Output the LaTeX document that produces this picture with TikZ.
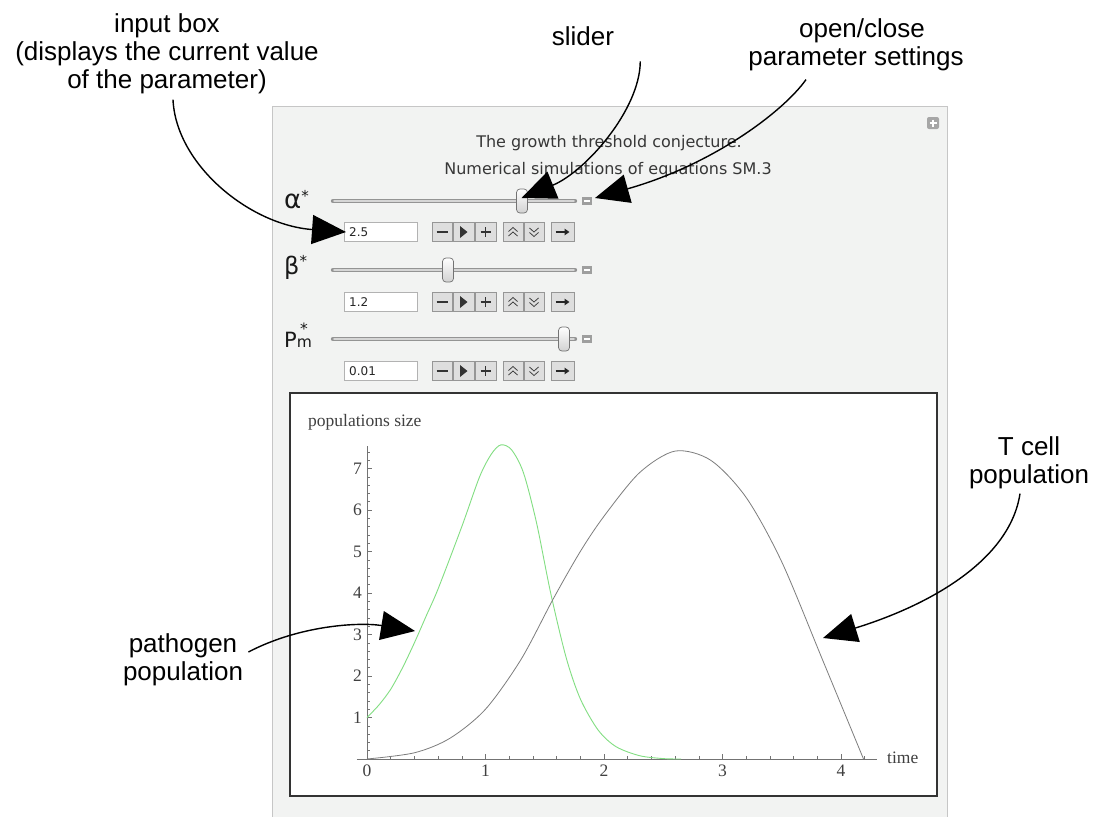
\documentclass[tikz,border=0pt]{standalone}
\usepackage{fontspec}
\setmainfont{Liberation Sans}
\newfontfamily\annfont{Liberation Sans}
\newfontfamily\uifont{DejaVu Sans}
\newfontfamily\plotfont{Liberation Serif}
\usetikzlibrary{arrows.meta}
\definecolor{panelbg}{RGB}{242,243,242}
\definecolor{panelbd}{RGB}{198,198,198}
\definecolor{uitext}{RGB}{55,55,55}
\definecolor{btnfill}{RGB}{222,222,222}
\definecolor{btnbd}{RGB}{150,150,150}
\definecolor{pgreen}{RGB}{130,222,130}
\definecolor{pgray}{RGB}{125,125,125}
\begin{document}
\begin{tikzpicture}[x=1pt,y=-1pt,
  ann/.style={font=\annfont\fontsize{26}{28}\selectfont, inner sep=0pt, anchor=base},
  callout/.style={line width=1.4pt, -{Triangle[length=34pt,width=29pt]}},
  uititle/.style={font=\uifont\fontsize{16}{18}\selectfont, text=uitext, inner sep=0pt, anchor=base},
  inbox/.style={draw=black!30, fill=white, line width=0.6pt, minimum width=73pt, minimum height=19pt, inner sep=0pt},
  valtxt/.style={font=\uifont\fontsize{12}{12}\selectfont, text=black!85, inner sep=0pt, anchor=west},
  btnbox/.style={draw=btnbd, fill=btnfill, line width=0.6pt, inner sep=0pt, minimum height=19pt},
  thumbbox/.style={draw=black!55, rounded corners=3.5pt, top color=white, bottom color=black!18, minimum width=11pt, minimum height=24pt, inner sep=0pt, line width=0.7pt},
  minbox/.style={fill=black!38, minimum width=10pt, minimum height=8pt, inner sep=0pt},
  parlbl/.style={font=\uifont, text=black!90, inner sep=0pt, anchor=base west},
  axisline/.style={draw=black!55, line width=0.7pt},
  ticklbl/.style={font=\plotfont\fontsize{17.5}{18}\selectfont, text=black!75, inner sep=0pt},
]
\useasboundingbox (0,0) rectangle (1096,817);
\fill[white] (0,0) rectangle (1096,817);

% panel
\fill[panelbg] (272,106) rectangle (947,830);
\draw[panelbd, line width=1pt] (272,830) -- (272,106) -- (947,106) -- (947,830);

% plus icon
\node[fill=black!35, rounded corners=2pt, minimum size=12pt, inner sep=0pt] (plusicon) at (933,123) {};
\draw[white, line width=1.3pt] (plusicon.center) ++(-3.5,0) -- ++(7,0) (plusicon.center) ++(0,-3.5) -- ++(0,7);

% titles
\node[uititle] (title1) at (609,147) {The growth threshold conjecture.};
\node[uititle] (title2) at (608,174) {Numerical simulations of equations SM.3};

% parameter labels
\node[parlbl, font=\uifont\fontsize{26}{26}\selectfont] (lalpha) at (284,208) {α\raisebox{7pt}{\fontsize{15}{15}\selectfont *}};
\node[parlbl, font=\uifont\fontsize{24}{24}\selectfont] (lbeta) at (284,274) {β\raisebox{8pt}{\fontsize{15}{15}\selectfont *}};
\node[parlbl, font=\uifont\fontsize{21}{21}\selectfont] (lpm) at (284,347) {P{\fontsize{15.5}{16}\selectfont m\llap{\raisebox{13pt}{*}\hspace{4pt}}}};

% controls
\foreach \r/\yy/\sy/\val/\tx in {a/232/201/2.5/522, b/302/270/1.2/448, c/371/339/0.01/564} {
  \draw[line width=4.4pt, line cap=round, black!42] (333,\sy) -- (575,\sy);
  \draw[line width=1.8pt, line cap=round, black!16] (334,\sy) -- (574,\sy);
  \node[thumbbox] (thumb\r) at (\tx,\sy) {};
  \node[minbox] (min\r) at (587,\sy) {};
  \draw[white, line width=1.2pt] (min\r.west) ++(2,0) -- ++(6,0);
  \node[inbox] (box\r) at (380.5,\yy) {};
  \node[valtxt] (val\r) at (349,\yy) {\val};
  \node[btnbox, minimum width=20pt] (bm\r) at (442,\yy) {};
  \node[btnbox, minimum width=21pt] (bp\r) at (463.5,\yy) {};
  \node[btnbox, minimum width=21pt] (bq\r) at (485.5,\yy) {};
  \node[btnbox, minimum width=20pt] (bu\r) at (513,\yy) {};
  \node[btnbox, minimum width=20pt] (bd\r) at (534,\yy) {};
  \node[btnbox, minimum width=23pt] (br\r) at (562.5,\yy) {};
  \draw[line width=1.9pt, black!80] (bm\r.center) ++(-5.5,0) -- ++(11,0);
  \fill[black!80] (bp\r.center) ++(-3.5,-6) -- ++(7.5,6) -- ++(-7.5,6) -- cycle;
  \draw[line width=1.4pt, black!80] (bq\r.center) ++(-5,0) -- ++(10,0) (bq\r.center) ++(0,-5) -- ++(0,10);
  \draw[line width=0.8pt, black!75] (bu\r.center) ++(-4.5,-0.5) -- ++(4.5,-4) -- ++(4.5,4)
        (bu\r.center) ++(-4.5,4) -- ++(4.5,-4) -- ++(4.5,4);
  \draw[line width=0.8pt, black!75] (bd\r.center) ++(-4.5,0.5) -- ++(4.5,4) -- ++(4.5,-4)
        (bd\r.center) ++(-4.5,-4) -- ++(4.5,4) -- ++(4.5,-4);
  \draw[line width=1.5pt, black!85, -{Triangle[length=5pt,width=6.5pt]}] (br\r.center) ++(-7,0) -- ++(14,0);
}

% plot frame
\draw[fill=white, draw=black!80, line width=1.2pt] (290,393) rectangle (937,796);
\node[ticklbl, anchor=base west] (ylabel) at (308,426) {populations size};
\node[ticklbl, anchor=base west] (xlabel) at (887,763) {time};

\begin{scope}[shift={(367,759)}, x=118.5pt, y=41.5pt]
  \draw[axisline] (-0.085,0) -- (4.3,0);
  \draw[axisline] (0,0) -- (0,7.55);
  \foreach \i in {0,...,4} {
    \draw[axisline] (\i,0) -- ++(0,0.13);
    \node[ticklbl, anchor=north] (xl\i) at ([yshift=-6pt]\i,0) {\i};
  }
  \foreach \i in {0.2,0.4,0.6,0.8,1.2,1.4,1.6,1.8,2.2,2.4,2.6,2.8,3.2,3.4,3.6,3.8,4.2}
    \draw[axisline, line width=0.5pt] (\i,0) -- ++(0,0.075);
  \foreach \i in {1,...,7} {
    \draw[axisline] (0,\i) -- ++(0.045,0);
    \node[ticklbl, anchor=east] (yl\i) at ([xshift=-5pt]0,\i) {\i};
  }
  \foreach \i in {0.2,0.4,0.6,0.8,1.2,1.4,1.6,1.8,2.2,2.4,2.6,2.8,3.2,3.4,3.6,3.8,4.2,4.4,4.6,4.8,5.2,5.4,5.6,5.8,6.2,6.4,6.6,6.8,7.2,7.4}
    \draw[axisline, line width=0.5pt] (0,\i) -- ++(0.027,0);
  % pathogen
  \draw[pgreen, line width=0.9pt] plot[smooth] coordinates {(0,1) (0.1,1.3) (0.2,1.68) (0.3,2.2) (0.4,2.8) (0.5,3.45) (0.6,4.1) (0.8,5.6) (0.95,6.8) (1.05,7.35) (1.13,7.57) (1.22,7.45) (1.32,6.9) (1.43,5.7) (1.55,4.0) (1.68,2.45) (1.8,1.45) (1.95,0.7) (2.1,0.3) (2.3,0.08) (2.5,0.01) (2.65,0)};
  % T cells
  \draw[pgray, line width=0.8pt] plot[smooth] coordinates {(0,0) (0.4,0.15) (0.7,0.5) (1.0,1.2) (1.3,2.4) (1.57,3.85) (1.8,5.0) (2.0,5.85) (2.3,6.9) (2.6,7.42) (2.9,7.2) (3.2,6.3) (3.5,4.75) (3.85,2.35) (4.19,0)};
\end{scope}

% annotations
\node[ann] (in1) at (167,32) {input box};
\node[ann] (in2) at (167,60) {(displays the current value};
\node[ann] (in3) at (167,88) {of the parameter)};
\node[ann] (sl) at (583,45) {slider};
\node[ann] (oc1) at (862,37) {open/close};
\node[ann] (oc2) at (856,65) {parameter settings};
\node[ann] (pa1) at (183,652) {pathogen};
\node[ann] (pa2) at (183,680) {population};
\node[ann] (tc1) at (1029,455) {T cell};
\node[ann] (tc2) at (1029,483) {population};

\coordinate (tipin) at (346,232);
\coordinate (tipsl) at (521.5,198);
\coordinate (tipoc) at (595,198);
\coordinate (tippa) at (415,631);
\coordinate (tiptc) at (823,638);

\draw[callout] ([shift={(6,6)}]in3.south) .. controls (176,165) and (250,225) .. (tipin);
\draw[callout] ([shift={(26,16)}]sl.south east) .. controls (640,110) and (585,172) .. (tipsl);
\draw[callout] ([shift={(-50,9)}]oc2.south) .. controls (783,112) and (712,165) .. (tipoc);
\draw[callout] ([shift={(11,0)}]pa1.base east) .. controls (300,625) and (360,622) .. (tippa);
\draw[callout] ([shift={(-9,5)}]tc2.south) .. controls (1010,560) and (930,605) .. (tiptc);
\end{tikzpicture}
\end{document}
